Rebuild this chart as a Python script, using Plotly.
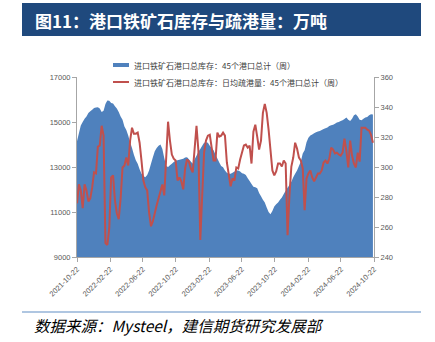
import pandas as pd
import plotly.graph_objects as go

# Weekly observations starting 2021-10-22
week_start = "2021-10-22"
n_weeks = 157
dates = pd.date_range(week_start, periods=n_weeks, freq="7D")

# 进口铁矿石港口总库存：45个港口总计（周），万吨
inventory = [
    14150, 14500, 14850, 15000, 15150, 15250, 15400, 15480, 15550, 15620,
    15650, 15660, 15600, 15450, 15500, 15800, 15960, 15950, 15850, 15820,
    15700, 15600, 15450, 15250, 15100, 14800, 14650, 14400, 14100, 13850,
    13550, 13300, 13150, 12900, 12700, 12600, 12550, 12650, 12850, 13150,
    13430, 13700, 13850, 13950, 14000, 13800, 13400, 13050, 13000, 13080,
    13150, 13220, 13280, 13300, 13320, 13350, 13370, 13420, 13430, 13350,
    13250, 13150, 13350, 13500, 13680, 13800, 13950, 14080, 14100, 14080,
    13950, 13850, 13750, 13550, 13380, 13200, 13050, 12990, 12850, 12750,
    12700, 12700, 12750, 12800, 12850, 12850, 12800, 12720, 12700, 12650,
    12500, 12380, 12250, 12120, 12100, 12060, 11850, 11700, 11550, 11420,
    11200, 11000, 10900, 11050, 11250, 11350, 11420, 11550, 11650, 11800,
    11950, 12080, 12200, 12350, 12550, 12700, 12850, 13050, 13250, 13600,
    13750, 14100, 14300, 14400, 14450, 14500, 14540, 14580, 14600, 14650,
    14690, 14720, 14760, 14820, 14860, 14880, 14920, 14980, 15000, 15040,
    15080, 15130, 15200, 15100, 15050, 15150, 15300, 15350, 15250, 15100,
    15080, 15150, 15200, 15220, 15300, 15350, 15330,
]

# 日均疏港量：45个港口总计（周），万吨
daily_outflow = [
    275.8, 288.4, 284.4, 272.5, 288.4, 284.4, 277.1, 279.1, 286.4, 296.4,
    295.7, 313.6, 314.3, 327.5, 320.9, 249.3, 248.0, 259.2, 293.0, 294.4,
    277.8, 269.2, 265.2, 279.1, 299.7, 301.0, 306.3, 301.0, 317.6, 326.2,
    322.2, 322.2, 322.9, 316.2, 304.3, 291.0, 286.4, 284.4, 269.8, 260.5,
    263.9, 269.8, 274.5, 279.1, 284.4, 288.4, 281.1, 304.3, 330.2, 317.6,
    308.3, 305.6, 304.3, 291.0, 293.0, 290.4, 285.1, 299.0, 305.0, 303.6,
    299.0, 296.4, 312.9, 327.5, 310.9, 251.3, 281.1, 309.6, 317.6, 320.9,
    321.5, 311.6, 304.3, 304.3, 322.9, 320.2, 320.9, 322.9, 320.9, 303.0,
    295.7, 287.1, 292.4, 291.0, 299.7, 299.0, 305.0, 310.3, 314.3, 314.9,
    312.9, 314.3, 302.3, 323.5, 328.2, 320.2, 311.6, 317.6, 336.1, 342.1,
    336.1, 324.9, 312.3, 297.7, 294.4, 297.0, 302.3, 302.3, 300.3, 304.3,
    302.3, 254.6, 281.0, 300.3, 306.3, 316.2, 312.3, 306.3, 304.3, 299.0,
    271.2, 292.4, 295.7, 297.7, 293.0, 290.4, 293.0, 295.7, 295.7, 297.7,
    303.0, 304.3, 302.3, 305.6, 312.9, 311.6, 309.0, 309.6, 308.3, 307.6,
    309.6, 318.9, 310.9, 299.7, 317.6, 307.6, 302.3, 299.7, 309.6, 303.6,
    326.2, 326.2, 326.2, 324.9, 324.2, 321.5, 316.2,
]

tick_dates = [
    "2021-10-22", "2022-02-22", "2022-06-22", "2022-10-22", "2023-02-22",
    "2023-06-22", "2023-10-22", "2024-02-22", "2024-06-22", "2024-10-22",
]
left_ticks = [9000, 11000, 13000, 15000, 17000]
right_ticks = [240, 260, 280, 300, 320, 340, 360]

series_names = [
    "进口铁矿石港口总库存：45个港口总计（周）",
    "进口铁矿石港口总库存：日均疏港量：45个港口总计（周）",
]
title_text = "图11：港口铁矿石库存与疏港量：万吨"
source_text = "数据来源：Mysteel，建信期货研究发展部"

BLUE = "#4F81BD"
RED = "#C0504D"
AXIS = "#A6A6A6"
LABEL = "#595959"
CJK = "Noto Sans CJK SC"

W, H = 435, 342
L, R, T, B = 77, 61, 77, 85
PW, PH = W - L - R, H - T - B


def px(x):
    return (x - L) / PW


def py(y):
    return (H - B - y) / PH


fig = go.Figure()
fig.add_trace(go.Scatter(
    x=dates, y=inventory, name=series_names[0], mode="none",
    fill="tozeroy", fillcolor=BLUE, yaxis="y",
))
fig.add_trace(go.Scatter(
    x=dates, y=daily_outflow, name=series_names[1], mode="lines",
    line=dict(color=RED, width=2), yaxis="y2",
))

axis_common = dict(
    showline=True, linecolor=AXIS, linewidth=1, ticks="outside",
    ticklen=4, tickcolor=AXIS, showgrid=False, zeroline=False,
    tickfont=dict(family="Liberation Sans", size=7.5, color=LABEL),
)

fig.update_layout(
    width=W, height=H,
    margin=dict(l=L, r=R, t=T, b=B, pad=0),
    paper_bgcolor="white", plot_bgcolor="white",
    showlegend=False,
    xaxis=dict(
        type="date", range=[tick_dates[0], tick_dates[-1]],
        tickvals=tick_dates, ticktext=tick_dates, tickangle=-45,
        **axis_common,
    ),
    yaxis=dict(range=[9000, 17000], tickvals=left_ticks,
               ticktext=[str(v) for v in left_ticks], **axis_common),
    yaxis2=dict(range=[240, 360], tickvals=right_ticks,
                ticktext=[str(v) for v in right_ticks], overlaying="y",
                side="right", **axis_common),
)

shapes = [
    # title banner
    dict(type="rect", xref="paper", yref="paper", x0=px(22), x1=px(421),
         y0=py(36), y1=py(3), fillcolor="#1F497D", line=dict(width=0),
         layer="below"),
    # footer rule
    dict(type="line", xref="paper", yref="paper", x0=px(22), x1=px(421),
         y0=py(312), y1=py(312), line=dict(color="#95B3D7", width=1.5)),
    # legend keys
    dict(type="rect", xref="paper", yref="paper", x0=px(113), x1=px(129),
         y0=py(67), y1=py(63), fillcolor=BLUE, line=dict(width=0)),
    dict(type="line", xref="paper", yref="paper", x0=px(113), x1=px(129),
         y0=py(82), y1=py(82), line=dict(color=RED, width=2)),
]

annotations = [
    dict(text=title_text, xref="paper", yref="paper", x=px(33), y=py(20),
         xanchor="left", yanchor="middle", showarrow=False,
         font=dict(family=CJK, size=17, color="white", weight="bold")),
    dict(text=series_names[0], xref="paper", yref="paper", x=px(132), y=py(65),
         xanchor="left", yanchor="middle", showarrow=False,
         font=dict(family=CJK, size=8, color="#404040")),
    dict(text=series_names[1], xref="paper", yref="paper", x=px(132), y=py(82),
         xanchor="left", yanchor="middle", showarrow=False,
         font=dict(family=CJK, size=8, color="#404040")),
    dict(text=source_text, xref="paper", yref="paper", x=px(32), y=py(325),
         xanchor="left", yanchor="middle", showarrow=False,
         font=dict(family=CJK, size=15.5, color="black", style="italic")),
]

fig.update_layout(shapes=shapes, annotations=annotations)
fig.write_html("out.html")
